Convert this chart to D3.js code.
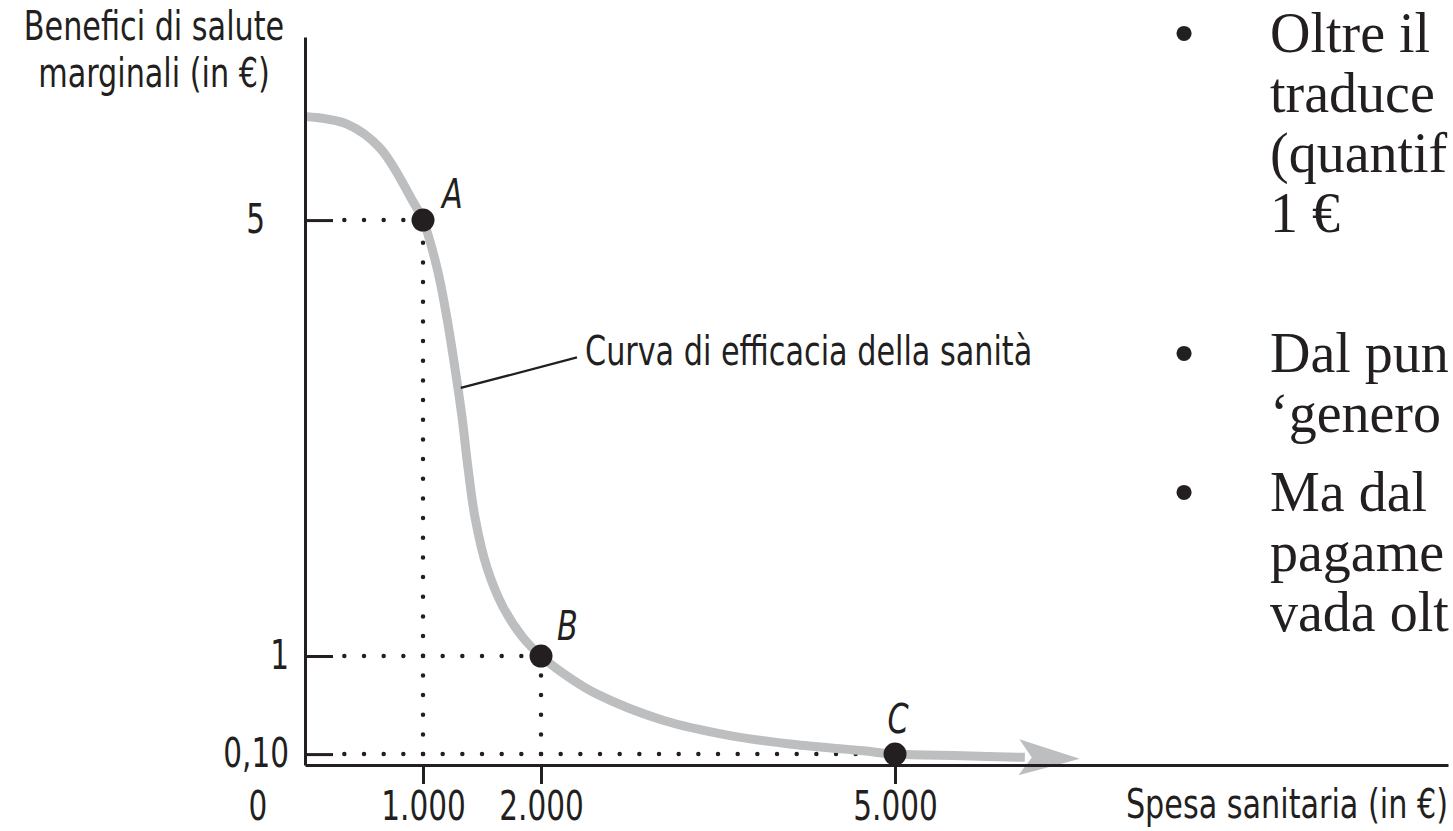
<!DOCTYPE html>
<html lang="it">
<head>
<meta charset="utf-8">
<title>Curva di efficacia della sanità</title>
<script src="https://d3js.org/d3.v7.min.js"></script>
<style>
  body { margin: 0; background: #fff; overflow: hidden; }
  svg text { fill: #231f20; }
  .sans { font-family: "Liberation Sans Narrow", "Arial Narrow", "DejaVu Sans Condensed", sans-serif; }
  .serif { font-family: "Liberation Serif", "DejaVu Serif", serif; }
</style>
</head>
<body>
<div id="chart"></div>
<script>

// Curve: health spending (€) -> marginal health benefit (€)
var spesa    = [0, 356, 636, 915, 1000, 1119, 1203, 1271, 1331, 1381, 1441, 1542, 1678, 1847, 2000, 2271, 2475, 3034, 3602, 4169, 4729, 5000, 5576, 6100];
var benefici = [5.95, 5.88, 5.66, 5.17, 5.0, 4.56, 4.10, 3.64, 3.19, 2.73, 2.27, 1.81, 1.45, 1.17, 1.0, 0.78, 0.65, 0.41, 0.27, 0.185, 0.13, 0.10, 0.085, 0.07];

// marked points
var puntiNome  = ["A", "B", "C"];
var puntiSpesa = [1000, 2000, 5000];
var puntiBen   = [5, 1, 0.10];

// ticks
var xTicks = [1000, 2000, 5000];
var xTickLabels = ["1.000", "2.000", "5.000"];
var yTicks = [0.10, 1, 5];
var yTickLabels = ["0,10", "1", "5"];

// leader line of the curve label (spending, benefit)
var richiamoSpesa = [1320, 2305];
var richiamoBen   = [3.46, 3.74];

// bullet text on the right (cut by the slide edge)
var paragrafi = [
  ["Oltre il", "traduce", "(quantif", "1 €"],
  ["Dal pun", "‘genero"],
  ["Ma dal", "pagame", "vada olt"]
];

var w = 1453, h = 831;
var ink = "#231f20";
var stretto = 0.82;   // the original uses a condensed face

// squeeze a text selection horizontally to mimic the condensed font
function condensa(sel) {
  sel.each(function() {
    var L = this.getComputedTextLength();
    d3.select(this).attr("textLength", L * stretto).attr("lengthAdjust", "spacingAndGlyphs");
  });
}

var svg = d3.select("#chart").append("svg")
    .attr("width", w)
    .attr("height", h);

//Scales
var xScale = d3.scaleLinear().domain([0, 9686]).range([305, 1448]);
var yScale = d3.scaleLinear().domain([0, 6.68]).range([765, 37]);

// arrow head for the curve
svg.append("defs").append("marker")
    .attr("id", "freccia")
    .attr("markerUnits", "userSpaceOnUse")
    .attr("viewBox", "0 0 70 40")
    .attr("markerWidth", 70)
    .attr("markerHeight", 40)
    .attr("refX", 10)
    .attr("refY", 20)
    .attr("orient", "auto")
  .append("path")
    .attr("d", "M65,20 L4,2 L17,20 L4,38 Z")
    .attr("fill", "#bcbec0");

// dotted guides (dot grid = 1/6 of 1000 €)
var passo = (xScale(1000) - xScale(0)) / 6;
var guide = svg.append("g").attr("id", "guide");
puntiSpesa.forEach(function(s, i) {
  var px = xScale(s), py = yScale(puntiBen[i]);
  var k = Math.floor((px - (xScale(0) + 30)) / passo);
  guide.append("line")
      .attr("x1", px).attr("y1", py)
      .attr("x2", px - k * passo).attr("y2", py);
  if (puntiBen[i] > 0.10) {
    guide.append("line")
        .attr("x1", px).attr("y1", yScale(0.10))
        .attr("x2", px).attr("y2", py);
  }
});
guide.selectAll("line")
    .attr("stroke", ink)
    .attr("stroke-width", 4.5)
    .attr("stroke-linecap", "round")
    .attr("stroke-dasharray", "0 " + passo);

// curve
var curva = d3.line()
    .x(function(d, i) { return xScale(spesa[i]); })
    .y(function(d, i) { return yScale(benefici[i]); })
    .curve(d3.curveCatmullRom.alpha(0.5));

svg.append("path")
    .datum(spesa)
    .attr("d", curva)
    .attr("fill", "none")
    .attr("stroke", "#bcbec0")
    .attr("stroke-width", 9)
    .attr("marker-end", "url(#freccia)");

// axes
var xAxis = d3.axisBottom(xScale)
    .tickValues(xTicks)
    .tickFormat(function(d, i) { return xTickLabels[i]; })
    .tickSizeInner(19)
    .tickSizeOuter(0)
    .tickPadding(8);

var yAxis = d3.axisLeft(yScale)
    .tickValues(yTicks)
    .tickFormat(function(d, i) { return yTickLabels[i]; })
    .tickSizeInner(-28)
    .tickSizeOuter(0)
    .tickPadding(16);

var gx = svg.append("g")
    .attr("class", "sans")
    .attr("transform", `translate(0, ${yScale(0)})`)
    .call(xAxis);

var gy = svg.append("g")
    .attr("class", "sans")
    .attr("transform", `translate(${xScale(0)}, 0)`)
    .call(yAxis);

[gx, gy].forEach(function(g) {
  g.attr("font-size", 40).attr("font-family", null);
  g.select(".domain").attr("stroke", ink).attr("stroke-width", 3);
  g.selectAll(".tick line").attr("stroke", ink).attr("stroke-width", 3);
  g.selectAll(".tick text").attr("fill", ink).call(condensa);
});
// the "5" label sits further left in the original
gy.selectAll(".tick text").filter(function(d) { return d === 5; }).attr("dx", -24);

// origin label
svg.append("text")
    .attr("class", "sans")
    .attr("x", xScale(0) - 47)
    .attr("y", yScale(0) + 27)
    .attr("dy", "0.71em")
    .attr("font-size", 40)
    .attr("text-anchor", "middle")
    .text("0")
    .call(condensa);

// points
svg.append("g").selectAll("circle")
    .data(puntiSpesa)
    .enter().append("circle")
    .attr("cx", function(d) { return xScale(d); })
    .attr("cy", function(d, i) { return yScale(puntiBen[i]); })
    .attr("r", 11.5)
    .attr("fill", ink);

// point labels
var dxLab = [19, 16, 3], dyLab = [-12, -16, -21], ancLab = ["start", "start", "middle"];
svg.append("g").selectAll("text")
    .data(puntiNome)
    .enter().append("text")
    .attr("class", "sans")
    .attr("x", function(d, i) { return xScale(puntiSpesa[i]) + dxLab[i]; })
    .attr("y", function(d, i) { return yScale(puntiBen[i]) + dyLab[i]; })
    .attr("text-anchor", function(d, i) { return ancLab[i]; })
    .attr("font-size", 41)
    .attr("font-style", "italic")
    .text(function(d) { return d; })
    .call(condensa);

// curve label with leader
svg.append("line")
    .attr("x1", xScale(richiamoSpesa[0])).attr("y1", yScale(richiamoBen[0]))
    .attr("x2", xScale(richiamoSpesa[1])).attr("y2", yScale(richiamoBen[1]))
    .attr("stroke", ink)
    .attr("stroke-width", 2.2);

svg.append("text")
    .attr("class", "sans")
    .attr("x", xScale(richiamoSpesa[1]) + 8)
    .attr("y", yScale(richiamoBen[1]) + 8)
    .attr("font-size", 41)
    .text("Curva di efficacia della sanità")
    .call(condensa);

// axis titles
[["Benefici di salute", 40], ["marginali (in €)", 87]].forEach(function(r) {
  svg.append("text")
      .attr("class", "sans")
      .attr("x", 154)
      .attr("y", r[1])
      .attr("font-size", 41)
      .attr("text-anchor", "middle")
      .text(r[0])
      .call(condensa);
});

// x title, right-aligned to the end of the axis, squeezed with a transform
svg.append("text")
    .attr("class", "sans")
    .attr("transform", `translate(${xScale(9686)}, 818) scale(${stretto}, 1)`)
    .attr("font-size", 41)
    .attr("text-anchor", "end")
    .text("Spesa sanitaria (in €)");

// bullet text at the right
var inizio = [52, 372, 511], interlinea = 60;
var testo = svg.append("g").attr("id", "testo");
paragrafi.forEach(function(righe, p) {
  testo.append("text")
      .attr("x", 1184)
      .attr("y", inizio[p])
      .attr("text-anchor", "middle")
      .attr("font-family", "Liberation Sans, Arial, sans-serif")
      .attr("font-size", 56)
      .text("•");
  righe.forEach(function(r, j) {
    testo.append("text")
        .attr("class", "serif")
        .attr("x", 1270)
        .attr("y", inizio[p] + j * interlinea)
        .attr("font-size", 56)
        .text(r);
  });
});

</script>
</body>
</html>
